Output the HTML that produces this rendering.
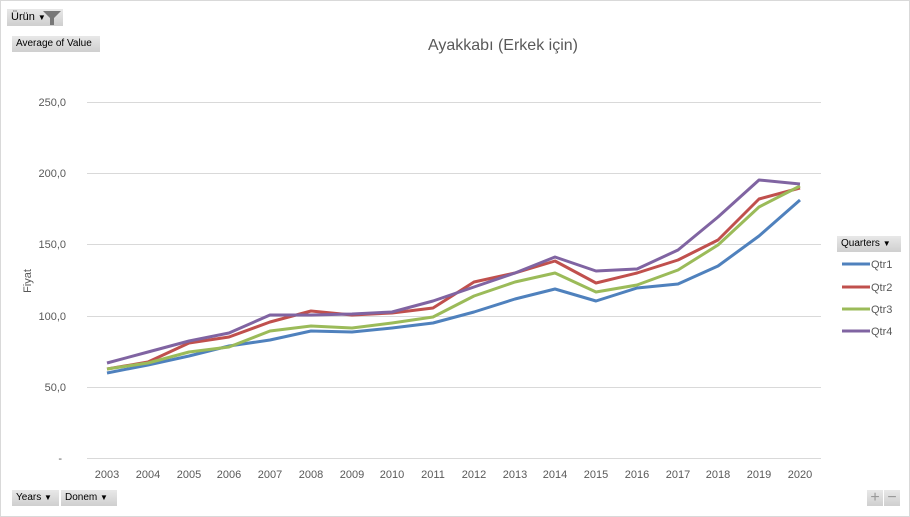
<!DOCTYPE html>
<html><head><meta charset="utf-8"><style>
body{margin:0;background:#fff;font-family:"Liberation Sans",sans-serif}
.wrap{position:relative;width:908px;height:515px;border:1px solid #d9d9d9;overflow:hidden}
.btn{position:absolute;background:linear-gradient(#e8e8e8,#cfcfcf);font-size:11px;color:#000;height:16px;line-height:16px;padding:0 4px;box-sizing:border-box}
</style></head><body><div class="wrap">
<div class="btn" style="left:6px;top:8px;width:56px;height:17px">Ürün <span style="font-size:8px">▼</span></div>
<svg style="position:absolute;left:40px;top:8px" width="22" height="17"><polygon points="2,2 20,2 13,9 13,16 9,16 9,9" fill="#777"/></svg>
<div class="btn" style="left:11px;top:35px;width:88px;font-size:10px">Average of Value</div>
<div class="btn" style="left:836px;top:235px;width:64px;font-size:10px">Quarters <span style="font-size:8px">▼</span></div>
<div class="btn" style="left:11px;top:489px;width:47px;font-size:10px">Years <span style="font-size:8px">▼</span></div>
<div class="btn" style="left:60px;top:489px;width:56px;font-size:10px">Donem <span style="font-size:8px">▼</span></div>
<div class="btn" style="left:866px;top:489px;width:16px;color:#999;padding:0;text-align:center;font-size:16px">+</div>
<div class="btn" style="left:883px;top:489px;width:16px;color:#999;padding:0;text-align:center;font-size:16px">−</div>
<svg width="910" height="517" style="position:absolute;left:-1px;top:-1px" font-family="Liberation Sans, sans-serif">
<text x="503" y="50" font-size="16" fill="#595959" text-anchor="middle">Ayakkabı (Erkek için)</text>
<g stroke="#d9d9d9" stroke-width="1">
<line x1="87" x2="821" y1="102.5" y2="102.5"/><line x1="87" x2="821" y1="173.5" y2="173.5"/><line x1="87" x2="821" y1="244.5" y2="244.5"/><line x1="87" x2="821" y1="316.5" y2="316.5"/><line x1="87" x2="821" y1="387.5" y2="387.5"/><line x1="87" x2="821" y1="458.5" y2="458.5"/>
</g>
<g font-size="11" fill="#595959" text-anchor="end">
<text x="66" y="106">250,0</text><text x="66" y="177">200,0</text><text x="66" y="248">150,0</text><text x="66" y="320">100,0</text><text x="66" y="391">50,0</text><text x="62" y="462">-</text>
</g>
<text transform="translate(31,281) rotate(-90)" font-size="11" fill="#595959" text-anchor="middle">Fiyat</text>
<g font-size="11" fill="#595959" text-anchor="middle">
<text x="107" y="478">2003</text><text x="148" y="478">2004</text><text x="189" y="478">2005</text><text x="229" y="478">2006</text><text x="270" y="478">2007</text><text x="311" y="478">2008</text><text x="352" y="478">2009</text><text x="392" y="478">2010</text><text x="433" y="478">2011</text><text x="474" y="478">2012</text><text x="515" y="478">2013</text><text x="555" y="478">2014</text><text x="596" y="478">2015</text><text x="637" y="478">2016</text><text x="678" y="478">2017</text><text x="718" y="478">2018</text><text x="759" y="478">2019</text><text x="800" y="478">2020</text>
</g>
<g fill="none" stroke-width="3" stroke-linejoin="round">
<polyline stroke="#4f81bd" points="107,373 148,365 189,356 229,346 270,340 311,331 352,332 392,328 433,323 474,312 515,299 555,289 596,301 637,288 678,284 718,266 759,236 800,200"/>
<polyline stroke="#c0504d" points="107,369 148,362 189,343 229,337 270,322 311,311 352,315 392,313 433,308 474,282 515,273 555,261 596,283 637,273 678,260 718,240 759,199 800,188"/>
<polyline stroke="#9bbb59" points="107,369 148,363 189,352 229,347 270,331 311,326 352,328 392,323 433,317 474,296 515,282 555,273 596,292 637,285 678,270 718,245 759,207 800,186"/>
<polyline stroke="#8064a2" points="107,363 148,352 189,341 229,333 270,315 311,315 352,314 392,312 433,301 474,287 515,273 555,257 596,271 637,269 678,250 718,217 759,180 800,184"/>
</g>
<g stroke-width="3">
<line x1="842" x2="870" y1="264" y2="264" stroke="#4f81bd"/><line x1="842" x2="870" y1="287" y2="287" stroke="#c0504d"/><line x1="842" x2="870" y1="309" y2="309" stroke="#9bbb59"/><line x1="842" x2="870" y1="331" y2="331" stroke="#8064a2"/>
</g>
<g font-size="11" fill="#595959">
<text x="871" y="268">Qtr1</text><text x="871" y="291">Qtr2</text><text x="871" y="313">Qtr3</text><text x="871" y="335">Qtr4</text>
</g>
</svg>
</div></body></html>
